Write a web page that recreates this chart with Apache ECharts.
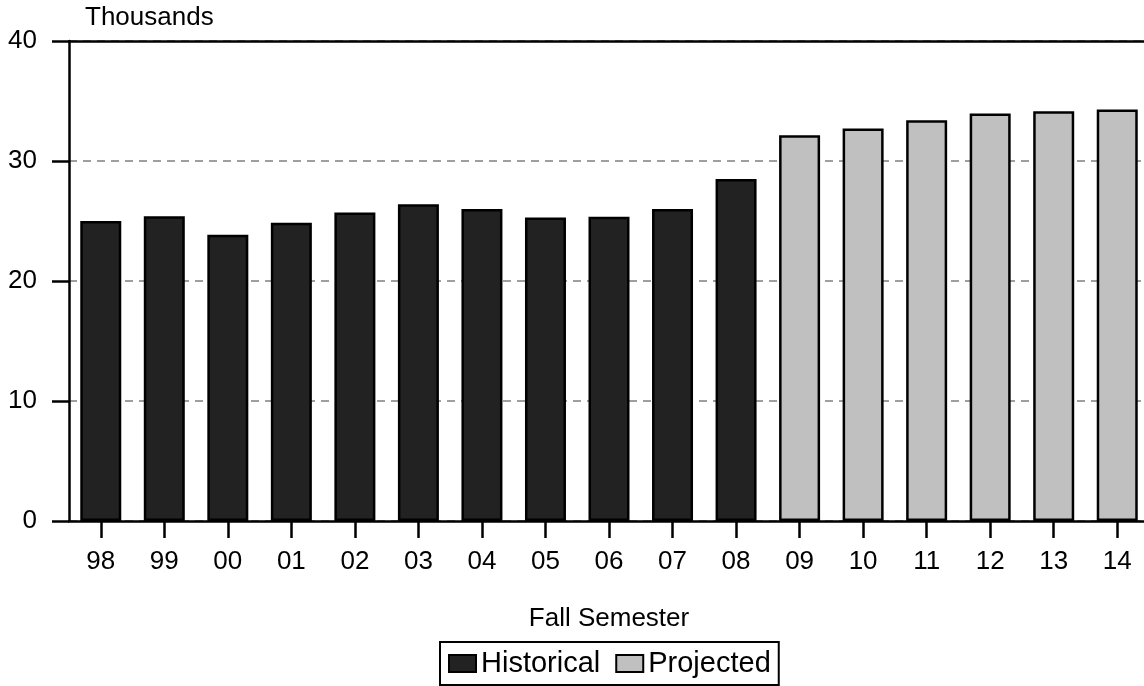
<!DOCTYPE html>
<html>
<head>
<meta charset="utf-8">
<script src="https://cdn.jsdelivr.net/npm/echarts@6/dist/echarts.min.js"></script>
<style>
html,body{margin:0;padding:0;background:#fff;overflow:hidden;width:1144px;height:686px;}
#chart{width:1149px;height:686px;}
</style>
</head>
<body>
<div id="chart"></div>
<script>
const categories = ['98','99','00','01','02','03','04','05','06','07','08','09','10','11','12','13','14'];
const historical = [25.0, 25.4, 23.85, 24.85, 25.7, 26.4, 26.0, 25.3, 25.35, 26.0, 28.5, null, null, null, null, null, null];
const projected  = [null, null, null, null, null, null, null, null, null, null, null, 32.15, 32.7, 33.4, 33.95, 34.15, 34.3];
const yTicks = { min: 0, max: 40, interval: 10 };

const FONT = 'Liberation Sans, Arial, sans-serif';
const chart = echarts.init(document.getElementById('chart'), null, { renderer: 'canvas' });
chart.setOption({
  animation: false,
  backgroundColor: '#ffffff',
  textStyle: { fontFamily: FONT, color: '#000' },
  grid: { left: 69, right: 0, top: 41, bottom: 165, containLabel: false },
  legend: {
    data: ['Historical', 'Projected'],
    left: 440,
    bottom: 1,
    orient: 'horizontal',
    icon: 'rect',
    itemWidth: 27,
    itemHeight: 17,
    itemGap: 15,
    padding: [7, 8, 7, 8],
    borderColor: '#000',
    borderWidth: 2,
    textStyle: { fontFamily: FONT, fontSize: 29, color: '#000' }
  },
  xAxis: [{
    type: 'category',
    data: categories,
    boundaryGap: true,
    name: 'Fall Semester',
    nameLocation: 'middle',
    nameGap: 85,
    nameTextStyle: { fontFamily: FONT, fontSize: 26, color: '#000' },
    axisLine: { show: true, lineStyle: { color: '#000', width: 2.5 } },
    axisTick: { show: true, alignWithLabel: true, length: 17, lineStyle: { color: '#000', width: 2.5 } },
    axisLabel: { fontFamily: FONT, fontSize: 26, color: '#000', margin: 28 },
    splitLine: { show: false }
  }, {
    type: 'category',
    data: categories,
    position: 'top',
    axisLine: { show: true, lineStyle: { color: '#000', width: 2.5 } },
    axisTick: { show: false },
    axisLabel: { show: false },
    splitLine: { show: false }
  }],
  yAxis: {
    type: 'value',
    min: yTicks.min,
    max: yTicks.max,
    interval: yTicks.interval,
    name: 'Thousands',
    nameLocation: 'end',
    nameGap: 23,
    nameTextStyle: { fontFamily: FONT, fontSize: 26, color: '#000', align: 'left', verticalAlign: 'middle', padding: [0, 0, 0, 16] },
    axisLine: { show: true, lineStyle: { color: '#000', width: 2.5 } },
    axisTick: { show: true, inside: false, length: 17, lineStyle: { color: '#000', width: 2.5 } },
    axisLabel: { fontFamily: FONT, fontSize: 26, color: '#000', margin: 32 },
    splitLine: { show: true, lineStyle: { color: '#808080', width: 1.5, type: [8, 6] } }
  },
  series: [{
    name: 'Historical',
    type: 'bar',
    data: historical,
    barWidth: 41,
    barGap: '-100%',
    itemStyle: { color: '#222222', borderColor: '#000', borderWidth: 2.5 }
  }, {
    name: 'Projected',
    type: 'bar',
    data: projected,
    barWidth: 41,
    barGap: '-100%',
    itemStyle: { color: '#c0c0c0', borderColor: '#000', borderWidth: 2.5 }
  }]
});
</script>
</body>
</html>
